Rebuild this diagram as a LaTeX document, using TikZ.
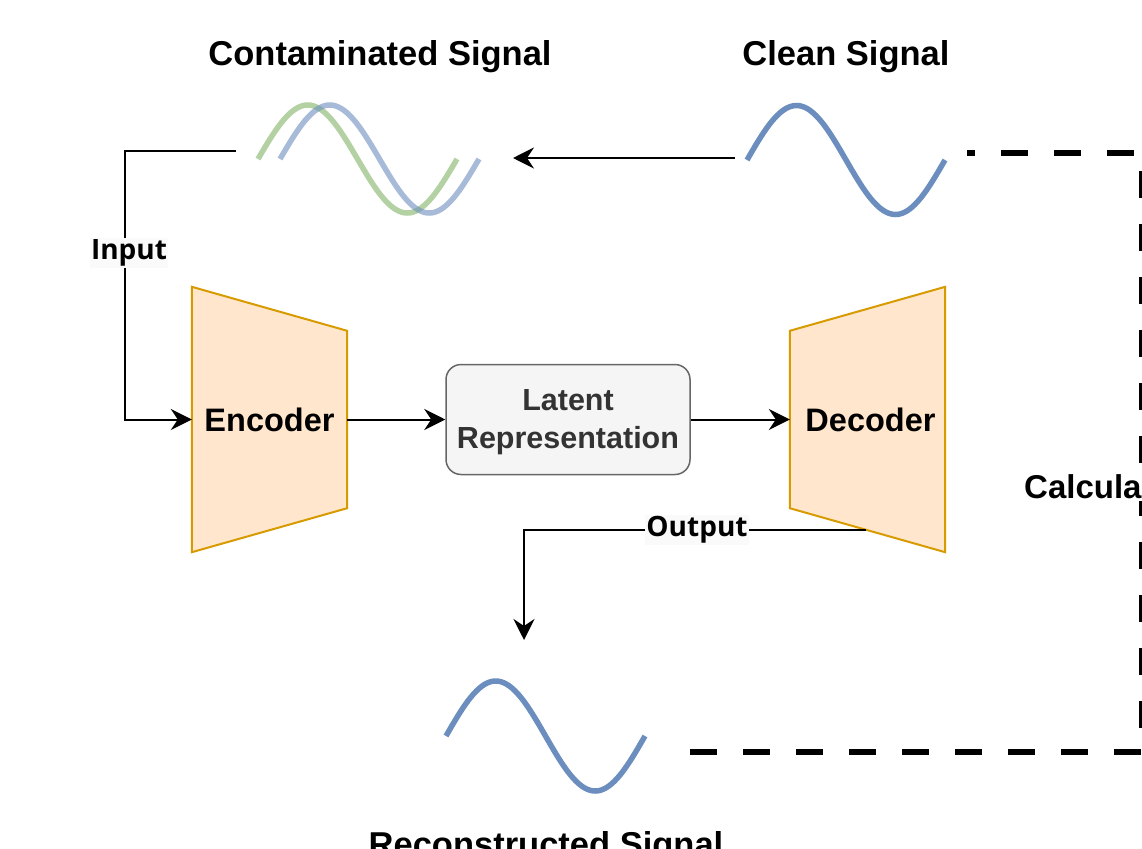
\documentclass[tikz,border=0pt]{standalone}
\usepackage{fontspec}
\setmainfont{Liberation Sans}
\newfontfamily\lblfont{Open Sans}
\usetikzlibrary{arrows.meta,calc}
\definecolor{sigblue}{HTML}{6C8EBF}
\definecolor{siggreen}{HTML}{82B366}
\definecolor{orfill}{HTML}{FFE6CC}
\definecolor{ordraw}{HTML}{D79B00}
\definecolor{latfill}{HTML}{F5F5F5}
\definecolor{latdraw}{HTML}{666666}
\definecolor{lattext}{HTML}{333333}
\definecolor{lblbg}{HTML}{FAFAFA}
\begin{document}
\begin{tikzpicture}[x=1pt,y=-1pt,
  title/.style={font=\fontsize{34.5}{40}\selectfont\bfseries, inner sep=0pt, anchor=base},
  coderbox/.style={minimum width=155pt, minimum height=265pt, inner sep=0pt},
  codertext/.style={inner sep=0pt, font=\fontsize{32.5}{38}\selectfont\bfseries},
  trap/.style={fill=orfill, draw=ordraw, line width=2pt, line join=miter},
  latentbox/.style={draw=latdraw, fill=latfill, rounded corners=15pt, line width=1.5pt,
    minimum width=244pt, minimum height=110pt},
  conn/.style={line width=2pt, -{Stealth[length=21pt,width=21pt,inset=7pt]}},
  wave/.style={line width=5.5pt, sigblue},
  lbl/.style={font=\lblfont\fontsize{28}{32}\selectfont\bfseries, fill=lblbg, inner sep=1.5pt},
  dashline/.style={line width=6.5pt, dash pattern=on 27pt off 26pt}
]
\useasboundingbox (0,0) rectangle (1142,848);

% titles
\node[title] (tcont) at (380,66) {Contaminated Signal};
\node[title] (tclean) at (846,66) {Clean Signal};
\node[title] (trec) at (546,856) {Reconstructed Signal};

% waves
\draw[wave, siggreen, opacity=0.6] plot[domain=0:360, samples=73, smooth] ({258+\x/360*199},{159-54*sin(\x)});
\draw[wave, opacity=0.6] plot[domain=0:360, samples=73, smooth] ({280+\x/360*199},{159-54*sin(\x)});
\draw[wave] plot[domain=0:360, samples=73, smooth] ({747+\x/360*198},{160-54.5*sin(\x)});
\draw[wave] plot[domain=0:360, samples=73, smooth] ({446+\x/360*199},{736-55*sin(\x)});

% encoder / decoder
\node[coderbox] (enc) at (269.5,419.5) {};
\draw[trap] (enc.north west) -- ($(enc.north east)+(0,44)$) -- ($(enc.south east)+(0,-44)$) -- (enc.south west) -- cycle;
\node[codertext] (enct) at (enc.center) {Encoder};
\node[coderbox] (dec) at (867.5,419.5) {};
\draw[trap] ($(dec.north west)+(0,44)$) -- (dec.north east) -- (dec.south east) -- ($(dec.south west)+(0,-44)$) -- cycle;
\node[codertext] (dect) at ($(dec.center)+(3,0)$) {Decoder};

% latent
\node[latentbox] (lat) at (568,419.5) {};
\node[align=center, text=lattext, font=\fontsize{30.5}{38}\selectfont\bfseries, inner sep=0pt] (latt) at ($(lat.center)+(0,3)$) {Latent\\Representation};

% connectors
\draw[conn] (enc.east) -- (lat.west);
\draw[conn] (lat.east) -- (dec.west);

\coordinate (inA) at (236,151);
\draw[conn] (inA) -- ++(-111,0) |- (enc.west);
\node[lbl] (inlbl) at (129,253) {Input};

\coordinate (clA) at (735,158);
\coordinate (clB) at (513,158);
\draw[conn] (clA) -- (clB);

\coordinate (outA) at (866,530);
\coordinate (outB) at (524,640);
\draw[conn] (outA) -| (outB);
\node[lbl] (outlbl) at (697,530) {Output};

% dashed loss path
\coordinate (rA) at (690,752);
\coordinate (cTR) at (1142.5,153);
\coordinate (tA) at (967,153);
\draw[dashline] (rA) -| (cTR) -- (tA);
\node[font=\fontsize{33}{38}\selectfont\bfseries, fill=white, inner sep=3pt, anchor=base west] (calc) at (1021,498) {Calcula};
\end{tikzpicture}
\end{document}
